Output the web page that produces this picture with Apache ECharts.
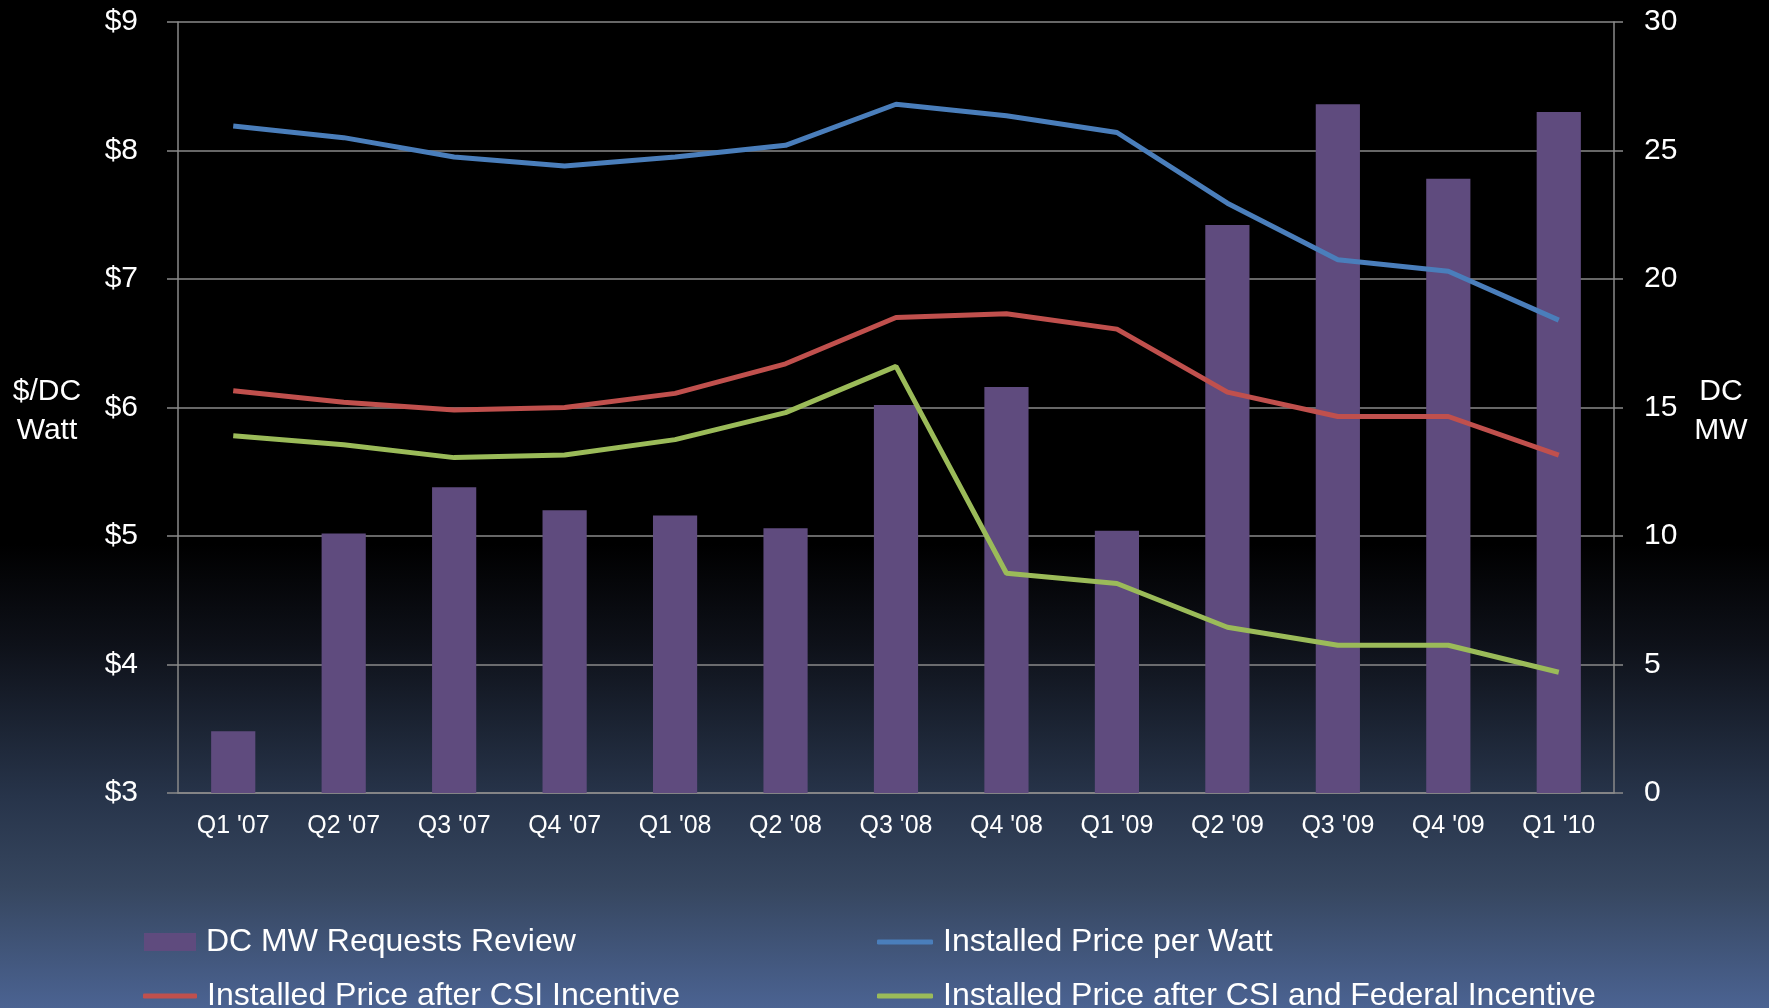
<!DOCTYPE html>
<html>
<head>
<meta charset="utf-8">
<script src="https://cdn.jsdelivr.net/npm/echarts@6/dist/echarts.min.js"></script>
<style>
  html, body { margin: 0; padding: 0; background: #000; }
  #chart { width: 1769px; height: 1008px; }
</style>
</head>
<body>
<div id="chart"></div>
<script>
// quarters on the x axis
const quarters = ["Q1 '07", "Q2 '07", "Q3 '07", "Q4 '07", "Q1 '08", "Q2 '08", "Q3 '08",
  "Q4 '08", "Q1 '09", "Q2 '09", "Q3 '09", "Q4 '09", "Q1 '10"]

// DC MW requesting review (right axis)
const mwRequests = [2.4, 10.1, 11.9, 11.0, 10.8, 10.3, 15.1, 15.8, 10.2, 22.1, 26.8, 23.9, 26.5]

// $/DC Watt (left axis)
const pricePerWatt = [8.19, 8.10, 7.95, 7.88, 7.95, 8.04, 8.36, 8.27, 8.14, 7.59, 7.15, 7.06, 6.68]
const priceAfterCsi = [6.13, 6.04, 5.98, 6.00, 6.11, 6.34, 6.70, 6.73, 6.61, 6.12, 5.93, 5.93, 5.63]
const priceAfterCsiFed = [5.78, 5.71, 5.61, 5.63, 5.75, 5.96, 6.32, 4.71, 4.63, 4.29, 4.15, 4.15, 3.94]

const leftTicks = ['$3', '$4', '$5', '$6', '$7', '$8', '$9']

const axisGray = '#8a8a8a'
const labelFont = 'Liberation Sans, Arial, sans-serif'

const chart = echarts.init(document.getElementById('chart'))

// one legend per item so each sits where the original puts it
function legendAt(name, left, top, icon, w, h) {
  return {
    data: [{ name: name, icon: icon }],
    left: left,
    top: top,
    itemWidth: w,
    itemHeight: h,
    selectedMode: false,
    textStyle: { color: '#fff', fontSize: 32, fontFamily: labelFont, padding: [0, 0, 0, 5] },
  }
}

const option = {
  backgroundColor: {
    type: 'linear', x: 0, y: 0, x2: 0, y2: 1,
    colorStops: [
      { offset: 0, color: '#000000' },
      { offset: 0.54, color: '#000000' },
      { offset: 0.64, color: '#0e1119' },
      { offset: 0.79, color: '#27344a' },
      { offset: 0.88, color: '#36465f' },
      { offset: 1, color: '#4b6392' },
    ],
  },
  animation: false,
  grid: { left: 178, right: 155, top: 22, bottom: 215 },
  legend: [
    legendAt('DC MW Requests Review', 139, 921, 'rect', 52, 18),
    legendAt('Installed Price per Watt', 872, 921, 'roundRect', 56, 5),
    legendAt('Installed Price after CSI Incentive', 138, 975, 'roundRect', 54, 5),
    legendAt('Installed Price after CSI and Federal Incentive', 872, 975, 'roundRect', 56, 5),
  ],
  graphic: [
    {
      type: 'text', x: 47, y: 372,
      style: { text: '$/DC\nWatt', fill: '#fff', font: '30px ' + labelFont, lineHeight: 39, align: 'center' },
    },
    {
      type: 'text', x: 1721, y: 372,
      style: { text: 'DC\nMW', fill: '#fff', font: '30px ' + labelFont, lineHeight: 39, align: 'center' },
    },
  ],
  xAxis: {
    type: 'category',
    data: quarters,
    axisLine: { show: true, lineStyle: { color: axisGray, width: 1.5 } },
    axisTick: { show: false },
    axisLabel: { color: '#fff', fontSize: 25, fontFamily: labelFont, margin: 21 },
  },
  yAxis: [
    {
      type: 'value',
      min: 3,
      max: 9,
      interval: 1,
      axisLine: { show: true, lineStyle: { color: axisGray, width: 1.5 } },
      axisTick: { show: true, length: 11, lineStyle: { color: axisGray, width: 1.5 } },
      splitLine: { show: true, lineStyle: { color: axisGray, width: 1.5 } },
      axisLabel: {
        color: '#fff', fontSize: 30, fontFamily: labelFont, margin: 40,
        formatter: (v) => leftTicks[v - 3],
      },
    },
    {
      type: 'value',
      min: 0,
      max: 30,
      interval: 5,
      position: 'right',
      axisLine: { show: true, lineStyle: { color: axisGray, width: 1.5 } },
      axisTick: { show: true, length: 9, lineStyle: { color: axisGray, width: 1.5 } },
      splitLine: { show: false },
      axisLabel: { color: '#fff', fontSize: 30, fontFamily: labelFont, margin: 30 },
    },
  ],
  series: [
    {
      name: 'DC MW Requests Review',
      type: 'bar',
      yAxisIndex: 1,
      barWidth: '40%',
      data: mwRequests,
      itemStyle: { color: '#5f4b7e' },
    },
    {
      name: 'Installed Price per Watt',
      type: 'line',
      yAxisIndex: 0,
      data: pricePerWatt,
      showSymbol: false,
      lineStyle: { color: '#4a7ebb', width: 5 },
      itemStyle: { color: '#4a7ebb' },
    },
    {
      name: 'Installed Price after CSI Incentive',
      type: 'line',
      yAxisIndex: 0,
      data: priceAfterCsi,
      showSymbol: false,
      lineStyle: { color: '#c0504d', width: 5 },
      itemStyle: { color: '#c0504d' },
    },
    {
      name: 'Installed Price after CSI and Federal Incentive',
      type: 'line',
      yAxisIndex: 0,
      data: priceAfterCsiFed,
      showSymbol: false,
      lineStyle: { color: '#9bbb59', width: 5 },
      itemStyle: { color: '#9bbb59' },
    },
  ],
}

chart.setOption(option)
</script>
</body>
</html>
